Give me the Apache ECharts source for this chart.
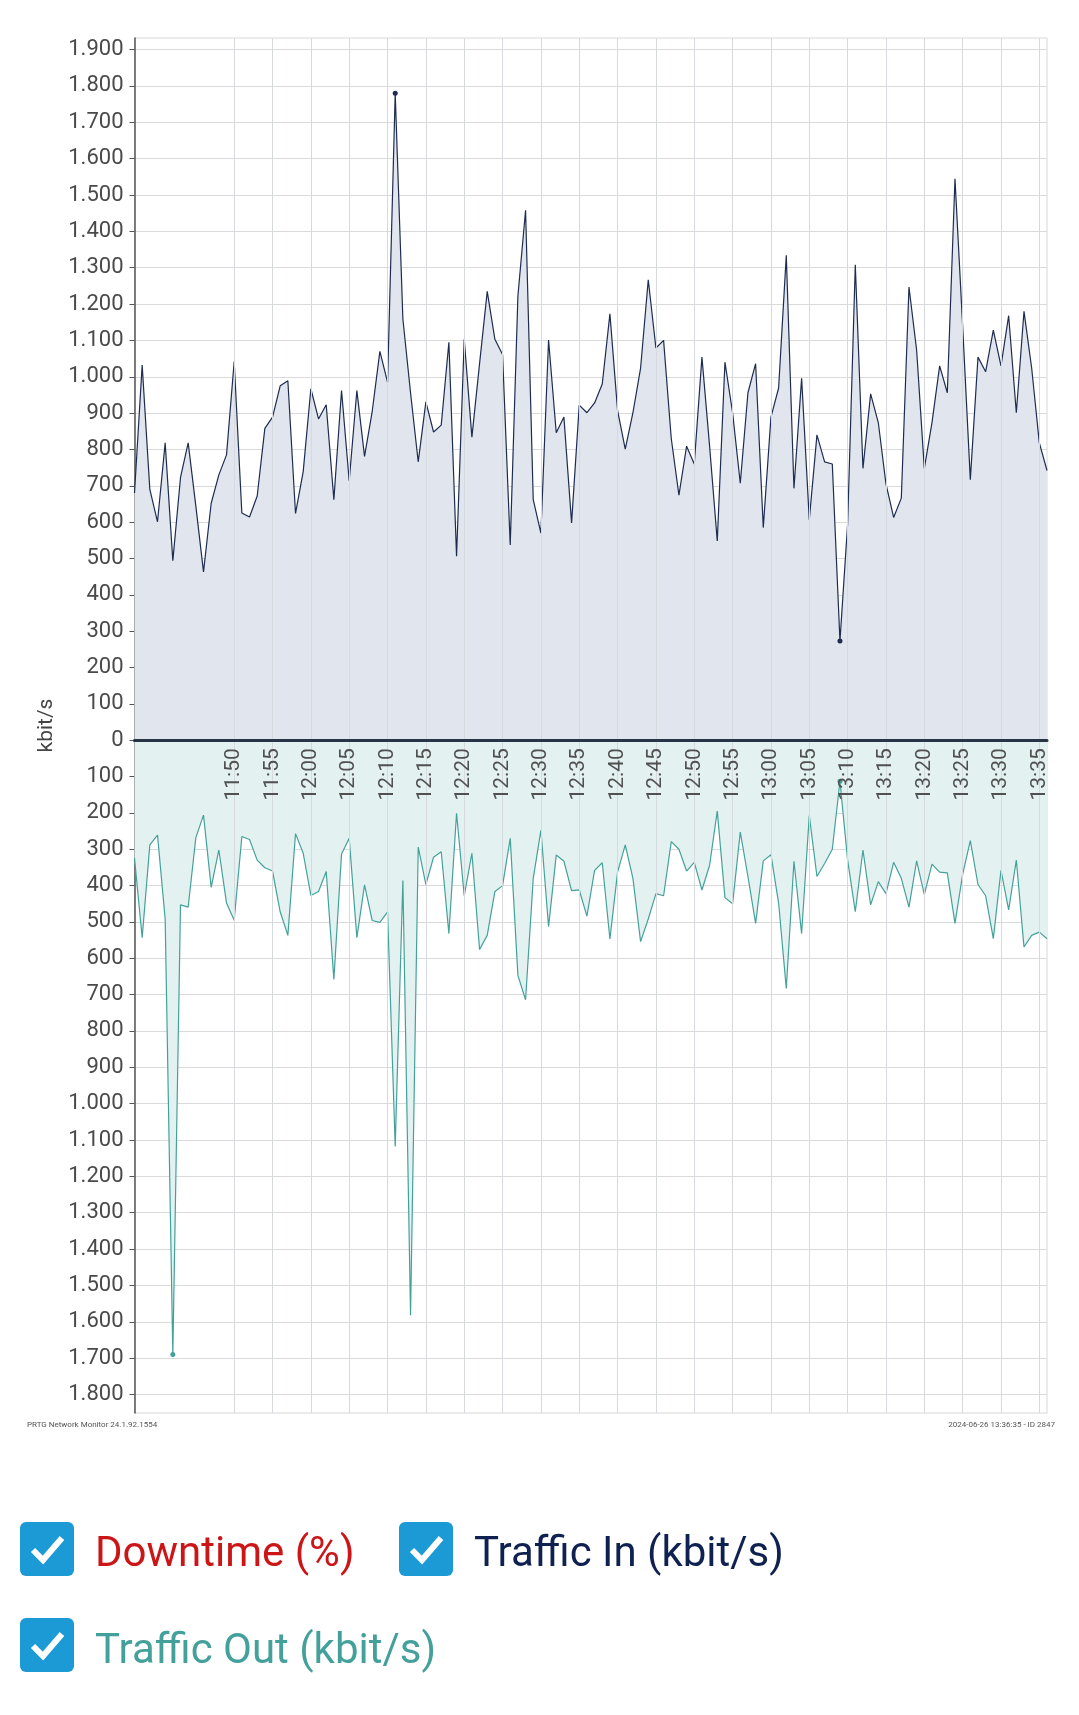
<!DOCTYPE html>
<html><head><meta charset="utf-8">
<script src="https://cdn.jsdelivr.net/npm/echarts@6/dist/echarts.min.js"></script>
<style>html,body{margin:0;padding:0;background:#fff}#c{width:1079px;height:1715px}</style>
</head><body><div id="c"></div>
<script>
const categories = [
'11:37','11:38','11:39','11:40','11:41','11:42','11:43','11:44','11:45','11:46','11:47','11:48','11:49',
'11:50','11:51','11:52','11:53','11:54','11:55','11:56','11:57','11:58','11:59',
'12:00','12:01','12:02','12:03','12:04','12:05','12:06','12:07','12:08','12:09',
'12:10','12:11','12:12','12:13','12:14','12:15','12:16','12:17','12:18','12:19',
'12:20','12:21','12:22','12:23','12:24','12:25','12:26','12:27','12:28','12:29',
'12:30','12:31','12:32','12:33','12:34','12:35','12:36','12:37','12:38','12:39',
'12:40','12:41','12:42','12:43','12:44','12:45','12:46','12:47','12:48','12:49',
'12:50','12:51','12:52','12:53','12:54','12:55','12:56','12:57','12:58','12:59',
'13:00','13:01','13:02','13:03','13:04','13:05','13:06','13:07','13:08','13:09',
'13:10','13:11','13:12','13:13','13:14','13:15','13:16','13:17','13:18','13:19',
'13:20','13:21','13:22','13:23','13:24','13:25','13:26','13:27','13:28','13:29',
'13:30','13:31','13:32','13:33','13:34','13:35','13:36'];

const trafficIn = [
680,1032,690,601,818,494,723,818,644,463,652,730,785,
1042,625,614,672,858,889,975,989,624,739,
967,884,923,662,962,714,962,781,905,1070,
985,1780,1159,956,766,931,848,867,1095,506,
1103,834,1036,1235,1103,1061,537,1222,1458,662,
570,1101,846,889,598,922,901,928,980,1173,
907,801,901,1024,1267,1079,1100,830,674,809,
760,1054,809,548,1040,901,707,956,1036,585,
889,969,1334,693,996,607,840,766,760,273,
595,1308,748,953,874,705,613,666,1247,1073,
748,874,1030,956,1545,1140,717,1054,1014,1128,
1030,1168,901,1180,1024,818,742];

const trafficOut = [
324,543,288,261,492,1690,453,459,268,206,405,302,448,
495,265,273,330,351,360,472,537,257,311,
427,416,361,658,313,270,543,398,496,501,
472,1118,386,1582,294,397,322,307,532,201,
428,311,576,537,416,400,270,647,714,380,
248,513,316,333,414,412,484,358,337,547,
363,288,380,554,492,422,428,279,300,360,
336,412,344,195,433,450,253,375,504,332,
315,448,683,333,532,207,375,339,300,113,
330,472,302,453,389,422,336,380,459,332,
425,341,363,365,504,369,276,397,428,546,
358,467,330,569,537,528,546];

const downtime = [];

const xTickLabels = ['11:50','11:55','12:00','12:05','12:10','12:15','12:20','12:25','12:30','12:35',
'12:40','12:45','12:50','12:55','13:00','13:05','13:10','13:15','13:20','13:25','13:30','13:35'];

const yTicks = [-1800,-1700,-1600,-1500,-1400,-1300,-1200,-1100,-1000,-900,-800,-700,-600,-500,-400,-300,-200,-100,
0,100,200,300,400,500,600,700,800,900,1000,1100,1200,1300,1400,1500,1600,1700,1800,1900];

const seriesNames = ['Downtime (%)','Traffic In (kbit/s)','Traffic Out (kbit/s)'];
const footerLeft = 'PRTG Network Monitor 24.1.92.1554';
const footerRight = '2024-06-26 13:36:35 - ID 2847';

const Y_MIN = -1851, Y_MAX = 1932;
const GRID_TOP = 38, GRID_BOTTOM = 302, H = 1715;

function fmt(v){
  const a = Math.abs(v);
  return String(a).replace(/\B(?=(\d{3})+(?!\d))/g,'.');
}
const showX = (i, v) => xTickLabels.indexOf(categories[i]) >= 0;

const chart = echarts.init(document.getElementById('c'), null, {renderer:'canvas'});
const FONT = 'Roboto';

// distance (px) from grid bottom up to the zero value line
const plotH = H - GRID_TOP - GRID_BOTTOM;
const zeroOffset = plotH * (0 - Y_MIN) / (Y_MAX - Y_MIN);

function checkbox(x, y){
  return [
    {type:'rect', shape:{x:x, y:y, width:54, height:54, r:6}, style:{fill:'#1b9ad6'}},
    {type:'polyline', shape:{points:[[x+13,y+28],[x+23,y+38],[x+42,y+16]]},
     style:{stroke:'#fff', lineWidth:6, fill:null, lineCap:'butt', lineJoin:'miter'}}
  ];
}

chart.setOption({
  backgroundColor:'#fff',
  animation:false,
  grid:{left:134.5, right:32, top:GRID_TOP, bottom:GRID_BOTTOM, show:true, borderColor:'#d8d8d8', borderWidth:1},
  xAxis:{
    type:'category', data:categories, boundaryGap:false,
    position:'bottom', offset:-zeroOffset,
    axisLine:{onZero:false, lineStyle:{color:'#263445', width:3}},
    axisTick:{show:false},
    axisLabel:{interval:showX, rotate:90, fontSize:21, color:'#505050', fontFamily:FONT, margin:8},
    splitLine:{show:true, interval:showX, lineStyle:{color:'#d6d9dd', width:1}},
    z:5
  },
  yAxis:{
    type:'value', min:Y_MIN, max:Y_MAX,
    name:'kbit/s', nameLocation:'middle', nameRotate:90, nameGap:70,
    nameTextStyle:{fontSize:21, color:'#444', fontFamily:FONT},
    axisLine:{show:true, onZero:false, lineStyle:{color:'#555', width:1.5}},
    axisTick:{show:true, length:5, customValues:yTicks, lineStyle:{color:'#555'}},
    axisLabel:{customValues:yTicks, formatter:fmt, fontSize:22, color:'#4a4a4a', fontFamily:FONT, margin:11},
    splitLine:{show:true, lineStyle:{color:'#dadada', width:1}}
  },
  series:[
    {name:seriesNames[0], type:'line', data:downtime, showSymbol:false, lineStyle:{color:'#cc1517'}},
    {name:seriesNames[1], type:'line', data:trafficIn, showSymbol:false, symbol:'none',
     lineStyle:{color:'#1d2c50', width:1.2}, areaStyle:{color:'#e1e5ed', opacity:1, origin:0},
     markPoint:{symbol:'circle', symbolSize:5, label:{show:false}, itemStyle:{color:'#1d2c50'},
       data:[{type:'max'},{type:'min'}]}, z:3},
    {name:seriesNames[2], type:'line', data:trafficOut.map(v=>-v), showSymbol:false, symbol:'none',
     lineStyle:{color:'#44a19a', width:1.2}, areaStyle:{color:'#e3f1f1', opacity:1, origin:0},
     markPoint:{symbol:'circle', symbolSize:5, label:{show:false}, itemStyle:{color:'#44a19a'},
       data:[{type:'max'},{type:'min'}]}, z:3}
  ],
  graphic:[
    {type:'text', left:27, top:1421, style:{text:footerLeft, font:'8px '+FONT, fill:'#555'}},
    {type:'text', right:24, top:1421, style:{text:footerRight, font:'8px '+FONT, fill:'#555'}},
    ...checkbox(20,1522),
    {type:'text', x:95, y:1555, style:{text:seriesNames[0], font:'42px '+FONT, fill:'#cc1517', textVerticalAlign:'middle'}},
    ...checkbox(399,1522),
    {type:'text', x:474, y:1555, style:{text:seriesNames[1], font:'42px '+FONT, fill:'#0f2150', textVerticalAlign:'middle'}},
    ...checkbox(20,1618),
    {type:'text', x:95, y:1652, style:{text:seriesNames[2], font:'42px '+FONT, fill:'#43a09a', textVerticalAlign:'middle'}}
  ]
});
</script></body></html>
